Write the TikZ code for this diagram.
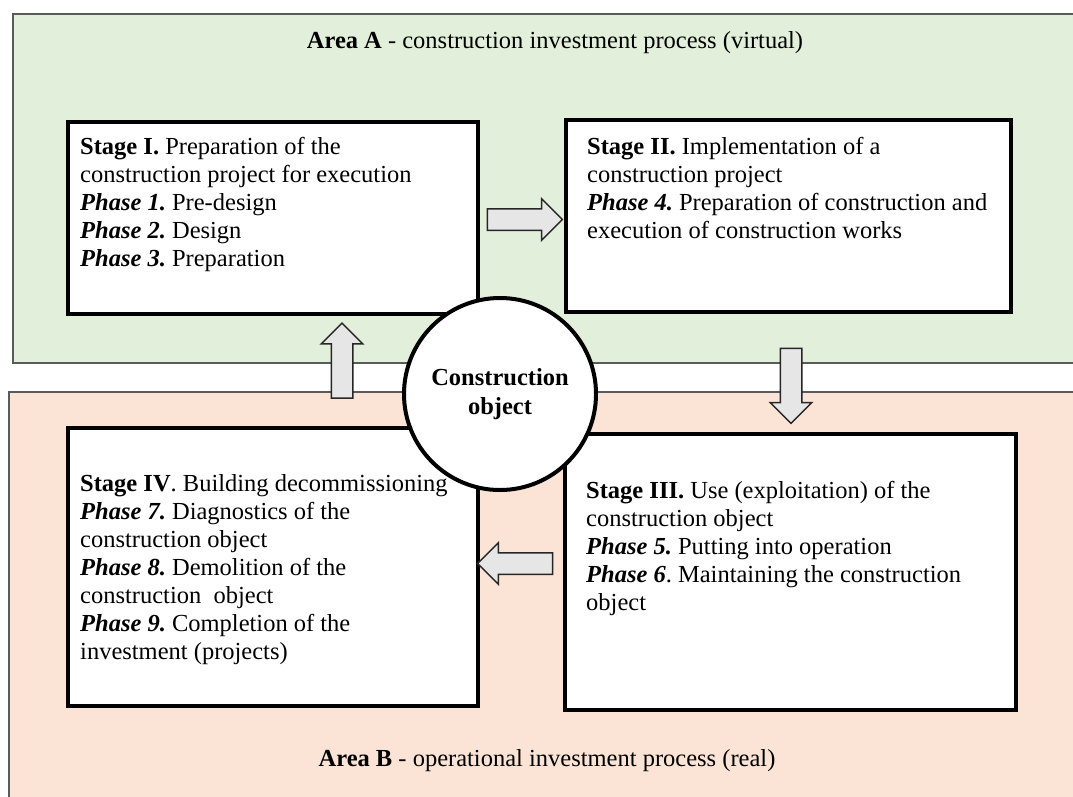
\documentclass[tikz,border=0pt]{standalone}
\usepackage{fontspec}
\setmainfont{Liberation Serif}
\usetikzlibrary{shapes.arrows}
\frenchspacing

\newlength{\du}
\setlength{\du}{1pt}

\definecolor{areaAcolor}{RGB}{226,239,218}
\definecolor{areaBcolor}{RGB}{251,228,214}
\definecolor{arrowfill}{RGB}{231,230,230}
\definecolor{framecolor}{RGB}{90,90,90}

\newcommand{\phaselabel}[1]{{\bfseries\itshape Phase #1}}

\tikzset{
  area/.style={draw=framecolor, line width=1.5\du},
  areatitle/.style={inner sep=0pt, font=\fontsize{24.5}{28}\selectfont},
  stagebox/.style={rectangle, draw=black, fill=white, line width=4\du, inner sep=0pt},
  stagetext/.style={anchor=north west, inner sep=0pt, align=left, font=\fontsize{24.5}{28}\selectfont},
  blockarrow/.style={single arrow, draw=black!85, fill=arrowfill, line width=1.5\du,
    inner xsep=0pt, inner ysep=10\du, single arrow head extend=10\du,
    single arrow head indent=0pt, minimum height=75\du},
  objectcircle/.style={circle, draw=black, fill=white, line width=4\du, inner sep=0pt,
    minimum size=192\du, align=center, font=\bfseries\fontsize{24.5}{29}\selectfont}
}

\begin{document}
\begin{tikzpicture}
\pgftransformxscale{1.000000}
\pgftransformyscale{-1.000000}
\useasboundingbox (0\du,0\du) rectangle (1073\du,796\du);
\fill[white] (0\du,0\du) rectangle (1073\du,796\du);
% areas
\draw[area, fill=areaAcolor] (13\du,14\du) rectangle (1085\du,363\du);
\draw[area, fill=areaBcolor] (9\du,392\du) rectangle (1085\du,810\du);
\node[areatitle] (titleA) at (555\du,43\du) {\textbf{Area A} - construction investment process (virtual)};
\node[areatitle] (titleB) at (547\du,761\du) {\textbf{Area B} - operational investment process (real)};
% stages
\node[stagebox, minimum width=410\du, minimum height=192\du] (stageI) at (273\du,218\du) {};
\node[stagebox, minimum width=445\du, minimum height=192\du] (stageII) at (788.5\du,216\du) {};
\node[stagebox, minimum width=451\du, minimum height=276\du] (stageIII) at (790.5\du,572\du) {};
\node[stagebox, minimum width=410\du, minimum height=278\du] (stageIV) at (273\du,567\du) {};
\node[stagetext] (textI) at (80\du,137\du) {\textbf{Stage I.} Preparation of the\\
  construction project for execution\\
  \phaselabel{1.} Pre-design\\
  \phaselabel{2.} Design\\
  \phaselabel{3.} Preparation};
\node[stagetext] (textII) at (587\du,137\du) {\textbf{Stage II.} Implementation of a\\
  construction project\\
  \phaselabel{4.} Preparation of construction and\\
  execution of construction works};
\node[stagetext] (textIII) at (586\du,481\du) {\textbf{Stage III.} Use (exploitation) of the\\
  construction object\\
  \phaselabel{5.} Putting into operation\\
  \phaselabel{6}. Maintaining the construction\\
  object};
\node[stagetext] (textIV) at (80\du,474\du) {\textbf{Stage IV}. Building decommissioning\\
  \phaselabel{7.} Diagnostics of the\\
  construction object\\
  \phaselabel{8.} Demolition of the\\
  construction\ \ object\\
  \phaselabel{9.} Completion of the\\
  investment (projects)};
% block arrows
\node[blockarrow] (toII) at (519.5\du,219.5\du) {};
\node[blockarrow, rotate=-90] (toIII) at (791\du,380.5\du) {};
\node[blockarrow, rotate=180] (toIV) at (520.5\du,563.5\du) {};
\node[blockarrow, rotate=90] (toI) at (342\du,366\du) {};
% centre
\node[objectcircle] (object) at (500\du,394\du) {Construction\\ object};
\end{tikzpicture}
\end{document}
